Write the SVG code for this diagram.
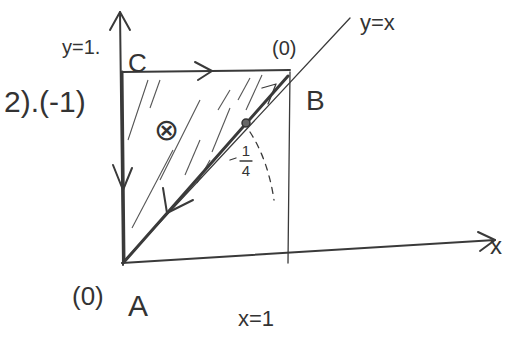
<svg xmlns="http://www.w3.org/2000/svg" width="514" height="337" viewBox="0 0 514 337">
<style>
.ln{fill:none;stroke:#3a3a3a;stroke-linecap:round;stroke-linejoin:round}
.thin{stroke-width:1.3}
.mid{stroke-width:2}
.thick{stroke-width:3}
.hatch{fill:none;stroke:#555;stroke-width:1.1}
.t{font-family:"Liberation Sans",Arial,sans-serif;fill:#333}
</style>
<rect width="514" height="337" fill="#fff"/>
<g id="axes">
<path class="ln mid" d="M123,265 L120,12"/>
<path class="ln mid" d="M110,30 L120,12 L130,30"/>
<path class="ln mid" d="M122,263 L495,240"/>
<path class="ln mid" d="M478,232 L495,240 L480,251"/>
<text class="t" x="490" y="254" font-size="24">x</text>
</g>
<g id="hatching">
<path class="hatch" d="M128,140 L148,80"/>
<path class="hatch" d="M132,228 L173,150"/>
<path class="hatch" d="M160,180 L200,100"/>
<path class="hatch" d="M185,175 L200,140"/>
<path class="hatch" d="M197,183 L210,160"/>
<path class="hatch" d="M212,152 L230,108"/>
<path class="hatch" d="M218,110 L230,90"/>
<path class="hatch" d="M238,100 L250,78"/>
<path class="hatch" d="M246,110 L262,75"/>
<path class="hatch" d="M150,108 L160,80"/>
</g>
<g id="connectors">
<path class="ln thin" d="M290,72 L288,263"/>
<path class="ln thin" d="M122,263 L350,18"/>
<path class="ln mid" d="M122,72 L290,70"/>
<path class="ln mid" d="M195,62 L212,71 L198,80"/>
<path class="ln thick" d="M122,72 L124,262"/>
<path class="ln mid" d="M113,165 L123,190 L132,168"/>
<path class="ln thick" d="M124,262 L288,76"/>
<path class="ln mid" d="M163,188 L167,213 L193,200"/>
<path class="ln thin" d="M262,88 L276,84 L268,104"/>
<path class="ln thin" d="M250,132 Q268,160 274,200" stroke-dasharray="6 6"/>
<circle cx="246" cy="123" r="4" fill="#666" stroke="#333" stroke-width="1.5"/>
</g>
<g id="node-C">
<text class="t" x="128" y="72" font-size="26">C</text>
<text class="t" x="62" y="54" font-size="20">y=1.</text>
</g>
<g id="node-B">
<text class="t" x="306" y="110" font-size="28">B</text>
<text class="t" x="272" y="55" font-size="20">(0)</text>
</g>
<g id="node-A">
<text class="t" x="128" y="316" font-size="30">A</text>
<text class="t" x="72" y="305" font-size="26">(0)</text>
</g>
<g id="labels">
<text class="t" x="4" y="112" font-size="30">2).(-1)</text>
<text class="t" x="360" y="30" font-size="22">y=x</text>
<text class="t" x="238" y="326" font-size="22">x=1</text>
<text class="t" x="154" y="140" font-size="30">⊗</text>
<text class="t" x="246" y="156" font-size="15" text-anchor="middle">1</text>
<path class="ln thin" d="M240,161 L252,161"/>
<path class="ln thin" d="M230,160 L236,158"/>
<text class="t" x="246" y="176" font-size="15" text-anchor="middle">4</text>
</g>
</svg>
